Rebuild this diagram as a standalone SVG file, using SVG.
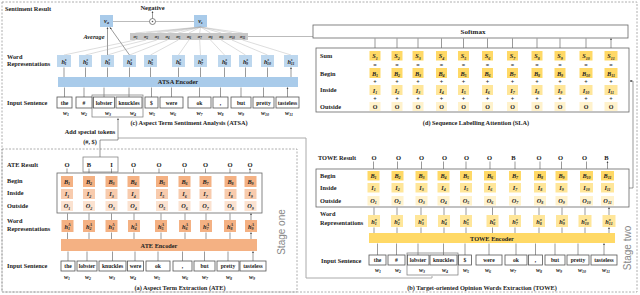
<svg xmlns="http://www.w3.org/2000/svg" width="640" height="295" viewBox="0 0 640 295">
<defs>
<marker id="ah" viewBox="0 0 6 6" refX="5" refY="3" markerWidth="3.5" markerHeight="3.5" orient="auto"><path d="M0,0 L6,3 L0,6 z" fill="#444"/></marker>
<style>
text{font-family:"Liberation Serif",serif;font-weight:bold;fill:#222}
.lbl{font-size:6.3px}
.cap{font-size:6.3px;text-anchor:middle}
.wd{font-size:5.6px;text-anchor:middle}
.v{font-size:6.3px;font-style:italic;text-anchor:middle}
.s{font-size:4px}
.res{font-size:6.5px;text-anchor:middle}
.op{font-size:6px;text-anchor:middle}
.stage{font-family:"Liberation Sans",sans-serif;font-weight:normal;font-size:10px;fill:#888;text-anchor:middle}
.dash{fill:none;stroke:#999;stroke-width:0.8;stroke-dasharray:2,1.5}
.wbox{fill:#fff;stroke:#555;stroke-width:0.8}
.frame{fill:#fff;stroke:#666;stroke-width:0.8}
.grp{fill:none;stroke:#777;stroke-width:0.7}
.ar{stroke:#555;stroke-width:0.6;fill:none;marker-end:url(#ah)}
.ln{stroke:#777;stroke-width:0.5;fill:none}
.thin{stroke:#aaa;stroke-width:0.4;fill:none}
.gl{stroke:#aaa;stroke-width:1;fill:none}
.blue{fill:#a9cbea}
.blueL{fill:#bdd7ee}
.or{fill:#f4b183}
.orM{fill:#f8cbad}
.orL{fill:#fbe2d0}
.ye{fill:#ffd966}
.yeM{fill:#ffe699}
.yeL{fill:#fff2cc}
</style>
</defs>

<!-- stage frames -->
<rect class="dash" x="2" y="2" width="635" height="290"/>
<rect class="dash" x="2" y="149" width="295" height="143"/>
<text class="stage" transform="translate(285,232) rotate(-90)">Stage one</text>
<text class="stage" transform="translate(631,248) rotate(-90)">Stage two</text>

<!-- connectors -->
<g id="connectors">
<path class="gl" d="M118,138 H306 V278 H432 V276"/>
<path class="ar" d="M100,157 V140 H118 V118.5"/>
<path class="ar" d="M629,188 H633 V81 H630"/>
<path class="ln" d="M248,36.5 H313"/>
</g>

<!-- ATSA -->
<g id="atsa">
<text class="lbl" x="5" y="11">Sentiment Result</text>
<text class="lbl" x="7" y="59">Word</text>
<text class="lbl" x="7" y="66">Representations</text>
<text class="lbl" x="7" y="105">Input Sentence</text>
<text class="res" x="152.5" y="9.5">Negative</text>
<circle cx="152.5" cy="21.5" r="3" fill="#fff" stroke="#555" stroke-width="0.7"/>
<circle cx="152.5" cy="21.5" r="0.8" fill="#555"/>
<path class="ar" d="M152.5,18.5 V11.5"/>
<path class="ln" d="M113,21.5 H149.5 M155.5,21.5 H194"/>
<rect class="blue" x="100" y="15" width="13" height="12"/>
<text class="v" x="106.5" y="23">v<tspan class="s" dy="1.3">a</tspan></text>
<rect class="blue" x="194" y="15" width="13" height="12"/>
<text class="v" x="200.5" y="23">v<tspan class="s" dy="1.3">s</tspan></text>
<text class="v" x="94" y="39">Average</text>
<path class="ar" d="M107.5,55 V27.5"/>
<path class="ar" d="M129.5,55 L110,27.5"/>
<!-- attention lines -->
<path class="thin" d="M64,55 L135.4,40 M85.5,55 L146.1,40 M107.5,55 L156.8,40 M129.5,55 L167.5,40 M150.5,55 L178.3,40 M178.5,55 L189,40 M200.5,55 L199.7,40 M224.5,55 L210.5,40 M245.5,55 L221.2,40 M267.5,55 L231.9,40 M291,55 L242.6,40"/>
<path class="thin" d="M200.5,27 L135.4,33 M200.5,27 L146.1,33 M200.5,27 L156.8,33 M200.5,27 L167.5,33 M200.5,27 L178.3,33 M200.5,27 L189,33 M200.5,27 L199.7,33 M200.5,27 L210.5,33 M200.5,27 L221.2,33 M200.5,27 L231.9,33 M200.5,27 L242.6,33"/>
<rect x="130" y="33" width="118" height="7" fill="#c8c8c8"/>
<g class="v" style="font-size:4.6px">
<text x="135.4" y="38.3">α<tspan class="s" style="font-size:3px" dy="0.8">1</tspan></text>
<text x="146.1" y="38.3">α<tspan class="s" style="font-size:3px" dy="0.8">2</tspan></text>
<text x="156.8" y="38.3">α<tspan class="s" style="font-size:3px" dy="0.8">3</tspan></text>
<text x="167.5" y="38.3">α<tspan class="s" style="font-size:3px" dy="0.8">4</tspan></text>
<text x="178.3" y="38.3">α<tspan class="s" style="font-size:3px" dy="0.8">5</tspan></text>
<text x="189" y="38.3">α<tspan class="s" style="font-size:3px" dy="0.8">6</tspan></text>
<text x="199.7" y="38.3">α<tspan class="s" style="font-size:3px" dy="0.8">7</tspan></text>
<text x="210.5" y="38.3">α<tspan class="s" style="font-size:3px" dy="0.8">8</tspan></text>
<text x="221.2" y="38.3">α<tspan class="s" style="font-size:3px" dy="0.8">9</tspan></text>
<text x="231.9" y="38.3">α<tspan class="s" style="font-size:3px" dy="0.8">10</tspan></text>
<text x="242.6" y="38.3">α<tspan class="s" style="font-size:3px" dy="0.8">11</tspan></text>
</g>
<!-- h^s boxes -->
<g>
<rect class="blueL" x="57" y="55" width="14" height="12"/><text class="v" x="64" y="63.5">h<tspan class="s" dy="-2.5">s</tspan><tspan class="s" dx="-2" dy="4">1</tspan></text>
<rect class="blueL" x="79" y="55" width="13" height="12"/><text class="v" x="85.5" y="63.5">h<tspan class="s" dy="-2.5">s</tspan><tspan class="s" dx="-2" dy="4">2</tspan></text>
<rect class="blueL" x="101" y="55" width="13" height="12"/><text class="v" x="107.5" y="63.5">h<tspan class="s" dy="-2.5">s</tspan><tspan class="s" dx="-2" dy="4">3</tspan></text>
<rect class="blueL" x="123" y="55" width="13" height="12"/><text class="v" x="129.5" y="63.5">h<tspan class="s" dy="-2.5">s</tspan><tspan class="s" dx="-2" dy="4">4</tspan></text>
<rect class="blueL" x="144" y="55" width="13" height="12"/><text class="v" x="150.5" y="63.5">h<tspan class="s" dy="-2.5">s</tspan><tspan class="s" dx="-2" dy="4">5</tspan></text>
<rect class="blueL" x="172" y="55" width="13" height="12"/><text class="v" x="178.5" y="63.5">h<tspan class="s" dy="-2.5">s</tspan><tspan class="s" dx="-2" dy="4">6</tspan></text>
<rect class="blueL" x="194" y="55" width="13" height="12"/><text class="v" x="200.5" y="63.5">h<tspan class="s" dy="-2.5">s</tspan><tspan class="s" dx="-2" dy="4">7</tspan></text>
<rect class="blueL" x="218" y="55" width="13" height="12"/><text class="v" x="224.5" y="63.5">h<tspan class="s" dy="-2.5">s</tspan><tspan class="s" dx="-2" dy="4">8</tspan></text>
<rect class="blueL" x="239" y="55" width="13" height="12"/><text class="v" x="245.5" y="63.5">h<tspan class="s" dy="-2.5">s</tspan><tspan class="s" dx="-2" dy="4">9</tspan></text>
<rect class="blueL" x="261" y="55" width="13" height="12"/><text class="v" x="267.5" y="63.5">h<tspan class="s" dy="-2.5">s</tspan><tspan class="s" dx="-2" dy="4">10</tspan></text>
<rect class="blueL" x="284" y="55" width="14" height="12"/><text class="v" x="291" y="63.5">h<tspan class="s" dy="-2.5">s</tspan><tspan class="s" dx="-2" dy="4">11</tspan></text>
</g>
<path class="ar" d="M64,77 V67.5 M85.5,77 V67.5 M107.5,77 V67.5 M129.5,77 V67.5 M150.5,77 V67.5 M178.5,77 V67.5 M200.5,77 V67.5 M224.5,77 V67.5 M245.5,77 V67.5 M267.5,77 V67.5 M291,77 V67.5"/>
<rect class="blue" x="58" y="77" width="240" height="10"/>
<text class="cap" x="178" y="84.3">ATSA  Encoder</text>
<path class="ar" d="M64.5,97 V87.5 M84,97 V87.5 M104,97 V87.5 M129,97 V87.5 M151.5,97 V87.5 M171.5,97 V87.5 M199.5,97 V87.5 M220.5,97 V87.5 M241,97 V87.5 M263.5,97 V87.5 M287.5,97 V87.5"/>
<rect class="grp" x="92" y="95" width="51" height="22"/>
<rect class="wbox" x="57" y="97" width="15" height="11"/><text class="wd" x="64.5" y="104.5">the</text>
<rect class="wbox" x="76" y="97" width="16" height="11"/><text class="wd" x="84" y="104.5">#</text>
<rect class="wbox" x="93.5" y="97" width="21" height="11"/><text class="wd" x="104" y="104.5">lobster</text>
<rect class="wbox" x="116" y="97" width="26" height="11"/><text class="wd" x="129" y="104.5">knuckles</text>
<rect class="wbox" x="145" y="97" width="13" height="11"/><text class="wd" x="151.5" y="104.5">$</text>
<rect class="wbox" x="160" y="97" width="23" height="11"/><text class="wd" x="171.5" y="104.5">were</text>
<rect class="wbox" x="188" y="97" width="23" height="11"/><text class="wd" x="199.5" y="104.5">ok</text>
<rect class="wbox" x="213" y="97" width="15" height="11"/><text class="wd" x="220.5" y="104.5">,</text>
<rect class="wbox" x="231" y="97" width="20" height="11"/><text class="wd" x="241" y="104.5">but</text>
<rect class="wbox" x="253" y="97" width="21" height="11"/><text class="wd" x="263.5" y="104.5">pretty</text>
<rect class="wbox" x="276" y="97" width="23" height="11"/><text class="wd" x="287.5" y="104.5">tasteless</text>
<g class="v">
<text x="66" y="115">w<tspan class="s" dy="1.3">1</tspan></text>
<text x="84" y="115">w<tspan class="s" dy="1.3">2</tspan></text>
<text x="108" y="115">w<tspan class="s" dy="1.3">3</tspan></text>
<text x="133" y="115">w<tspan class="s" dy="1.3">4</tspan></text>
<text x="152" y="115">w<tspan class="s" dy="1.3">5</tspan></text>
<text x="173" y="115">w<tspan class="s" dy="1.3">6</tspan></text>
<text x="199.5" y="115">w<tspan class="s" dy="1.3">7</tspan></text>
<text x="220.5" y="115">w<tspan class="s" dy="1.3">8</tspan></text>
<text x="241" y="115">w<tspan class="s" dy="1.3">9</tspan></text>
<text x="265" y="115">w<tspan class="s" dy="1.3">10</tspan></text>
<text x="289" y="115">w<tspan class="s" dy="1.3">11</tspan></text>
</g>
<text class="cap" x="189" y="124.5">(c) Aspect Term Sentiment Analysis (ATSA)</text>
<text class="cap" x="90" y="134">Add special tokens</text>
<text class="cap" x="90" y="144">(#, $)</text>
</g>

<!-- SLA -->
<g id="sla">
<rect class="frame" x="313" y="25" width="315" height="13"/>
<text class="cap" x="473" y="34" style="font-size:7px">Softmax</text>
<path class="ar" d="M375,51 V38.5 M397,51 V38.5 M418,51 V38.5 M441.5,51 V38.5 M463.5,51 V38.5 M487.5,51 V38.5 M512.5,51 V38.5 M537,51 V38.5 M560,51 V38.5 M586,51 V38.5 M611,51 V38.5"/>
<rect class="frame" x="316" y="48" width="313" height="64"/>
<text class="lbl" x="320" y="58">Sum</text>
<text class="lbl" x="320" y="75.5">Begin</text>
<text class="lbl" x="320" y="92">Inside</text>
<text class="lbl" x="320" y="109">Outside</text>
<g id="sla-cols">
<rect class="ye" x="369.5" y="51" width="11" height="9.5"/><rect class="ye" x="369.5" y="68" width="11" height="10"/><rect class="yeM" x="369.5" y="85" width="11" height="10"/><rect class="yeL" x="369.5" y="102" width="11" height="9"/>
<rect class="ye" x="391.5" y="51" width="11" height="9.5"/><rect class="ye" x="391.5" y="68" width="11" height="10"/><rect class="yeM" x="391.5" y="85" width="11" height="10"/><rect class="yeL" x="391.5" y="102" width="11" height="9"/>
<rect class="ye" x="412.5" y="51" width="11" height="9.5"/><rect class="ye" x="412.5" y="68" width="11" height="10"/><rect class="yeM" x="412.5" y="85" width="11" height="10"/><rect class="yeL" x="412.5" y="102" width="11" height="9"/>
<rect class="ye" x="436" y="51" width="11" height="9.5"/><rect class="ye" x="436" y="68" width="11" height="10"/><rect class="yeM" x="436" y="85" width="11" height="10"/><rect class="yeL" x="436" y="102" width="11" height="9"/>
<rect class="ye" x="458" y="51" width="11" height="9.5"/><rect class="ye" x="458" y="68" width="11" height="10"/><rect class="yeM" x="458" y="85" width="11" height="10"/><rect class="yeL" x="458" y="102" width="11" height="9"/>
<rect class="ye" x="482" y="51" width="11" height="9.5"/><rect class="ye" x="482" y="68" width="11" height="10"/><rect class="yeM" x="482" y="85" width="11" height="10"/><rect class="yeL" x="482" y="102" width="11" height="9"/>
<rect class="ye" x="507" y="51" width="11" height="9.5"/><rect class="ye" x="507" y="68" width="11" height="10"/><rect class="yeM" x="507" y="85" width="11" height="10"/><rect class="yeL" x="507" y="102" width="11" height="9"/>
<rect class="ye" x="531.5" y="51" width="11" height="9.5"/><rect class="ye" x="531.5" y="68" width="11" height="10"/><rect class="yeM" x="531.5" y="85" width="11" height="10"/><rect class="yeL" x="531.5" y="102" width="11" height="9"/>
<rect class="ye" x="554.5" y="51" width="11" height="9.5"/><rect class="ye" x="554.5" y="68" width="11" height="10"/><rect class="yeM" x="554.5" y="85" width="11" height="10"/><rect class="yeL" x="554.5" y="102" width="11" height="9"/>
<rect class="ye" x="579.5" y="51" width="13" height="9.5"/><rect class="ye" x="579.5" y="68" width="13" height="10"/><rect class="yeM" x="579.5" y="85" width="13" height="10"/><rect class="yeL" x="579.5" y="102" width="13" height="9"/>
<rect class="ye" x="604.5" y="51" width="13" height="9.5"/><rect class="ye" x="604.5" y="68" width="13" height="10"/><rect class="yeM" x="604.5" y="85" width="13" height="10"/><rect class="yeL" x="604.5" y="102" width="13" height="9"/>
</g>
<g class="v">
<text x="375" y="58.2">S<tspan class="s" dy="1.3">1</tspan></text><text x="397" y="58.2">S<tspan class="s" dy="1.3">2</tspan></text><text x="418" y="58.2">S<tspan class="s" dy="1.3">3</tspan></text><text x="441.5" y="58.2">S<tspan class="s" dy="1.3">4</tspan></text><text x="463.5" y="58.2">S<tspan class="s" dy="1.3">5</tspan></text><text x="487.5" y="58.2">S<tspan class="s" dy="1.3">6</tspan></text><text x="512.5" y="58.2">S<tspan class="s" dy="1.3">7</tspan></text><text x="537" y="58.2">S<tspan class="s" dy="1.3">8</tspan></text><text x="560" y="58.2">S<tspan class="s" dy="1.3">9</tspan></text><text x="586" y="58.2">S<tspan class="s" dy="1.3">10</tspan></text><text x="611" y="58.2">S<tspan class="s" dy="1.3">11</tspan></text>
<text x="375" y="75.5">B<tspan class="s" dy="1.3">1</tspan></text><text x="397" y="75.5">B<tspan class="s" dy="1.3">2</tspan></text><text x="418" y="75.5">B<tspan class="s" dy="1.3">3</tspan></text><text x="441.5" y="75.5">B<tspan class="s" dy="1.3">4</tspan></text><text x="463.5" y="75.5">B<tspan class="s" dy="1.3">5</tspan></text><text x="487.5" y="75.5">B<tspan class="s" dy="1.3">6</tspan></text><text x="512.5" y="75.5">B<tspan class="s" dy="1.3">7</tspan></text><text x="537" y="75.5">B<tspan class="s" dy="1.3">8</tspan></text><text x="560" y="75.5">B<tspan class="s" dy="1.3">9</tspan></text><text x="586" y="75.5">B<tspan class="s" dy="1.3">10</tspan></text><text x="611" y="75.5">B<tspan class="s" dy="1.3">11</tspan></text>
<text x="375" y="92.5">I<tspan class="s" dy="1.3">1</tspan></text><text x="397" y="92.5">I<tspan class="s" dy="1.3">2</tspan></text><text x="418" y="92.5">I<tspan class="s" dy="1.3">3</tspan></text><text x="441.5" y="92.5">I<tspan class="s" dy="1.3">4</tspan></text><text x="463.5" y="92.5">I<tspan class="s" dy="1.3">5</tspan></text><text x="487.5" y="92.5">I<tspan class="s" dy="1.3">6</tspan></text><text x="512.5" y="92.5">I<tspan class="s" dy="1.3">7</tspan></text><text x="537" y="92.5">I<tspan class="s" dy="1.3">8</tspan></text><text x="560" y="92.5">I<tspan class="s" dy="1.3">9</tspan></text><text x="586" y="92.5">I<tspan class="s" dy="1.3">10</tspan></text><text x="611" y="92.5">I<tspan class="s" dy="1.3">11</tspan></text>
</g>
<g class="op">
<text x="375" y="108.8">O</text><text x="397" y="108.8">O</text><text x="418" y="108.8">O</text><text x="441.5" y="108.8">O</text><text x="463.5" y="108.8">O</text><text x="487.5" y="108.8">O</text><text x="512.5" y="108.8">O</text><text x="537" y="108.8">O</text><text x="560" y="108.8">O</text><text x="586" y="108.8">O</text><text x="611" y="108.8">O</text>
<text x="375" y="66.5">=</text><text x="397" y="66.5">=</text><text x="418" y="66.5">=</text><text x="441.5" y="66.5">=</text><text x="463.5" y="66.5">=</text><text x="487.5" y="66.5">=</text><text x="512.5" y="66.5">=</text><text x="537" y="66.5">=</text><text x="560" y="66.5">=</text><text x="586" y="66.5">=</text><text x="611" y="66.5">=</text>
<text x="375" y="83.5">+</text><text x="397" y="83.5">+</text><text x="418" y="83.5">+</text><text x="441.5" y="83.5">+</text><text x="463.5" y="83.5">+</text><text x="487.5" y="83.5">+</text><text x="512.5" y="83.5">+</text><text x="537" y="83.5">+</text><text x="560" y="83.5">+</text><text x="586" y="83.5">+</text><text x="611" y="83.5">+</text>
<text x="375" y="100.5">+</text><text x="397" y="100.5">+</text><text x="418" y="100.5">+</text><text x="441.5" y="100.5">+</text><text x="463.5" y="100.5">+</text><text x="487.5" y="100.5">+</text><text x="512.5" y="100.5">+</text><text x="537" y="100.5">+</text><text x="560" y="100.5">+</text><text x="586" y="100.5">+</text><text x="611" y="100.5">+</text>
</g>
<text class="cap" x="476" y="124.5">(d)  Sequence Labelling Attention (SLA)</text>
</g>

<!-- TOWE -->
<g id="towe">
<text class="lbl" x="318" y="160">TOWE Result</text>
<g class="res">
<text x="374" y="160">O</text><text x="398.5" y="160">O</text><text x="421.5" y="160">O</text><text x="444.5" y="160">O</text><text x="466.5" y="160">O</text><text x="489.5" y="160">O</text><text x="513.5" y="160">B</text><text x="539" y="160">O</text><text x="560.5" y="160">O</text><text x="584.5" y="160">O</text><text x="606.5" y="160">B</text>
</g>
<path class="ar" d="M373.5,169 V161.5 M397.5,169 V161.5 M421.5,169 V161.5 M443.5,169 V161.5 M466,169 V161.5 M490,169 V161.5 M515,169 V161.5 M540,169 V161.5 M561.5,169 V161.5 M586.5,169 V161.5 M607.5,169 V161.5"/>
<rect class="frame" x="316" y="169" width="313" height="38"/>
<text class="lbl" x="320" y="177.5">Begin</text>
<text class="lbl" x="320" y="190">Inside</text>
<text class="lbl" x="320" y="202.5">Outside</text>
<g>
<rect class="ye" x="367.5" y="171" width="12" height="9.5"/><rect class="yeM" x="367.5" y="183" width="12" height="9.5"/><rect class="yeL" x="367.5" y="196" width="12" height="9.5"/>
<rect class="ye" x="391.5" y="171" width="12" height="9.5"/><rect class="yeM" x="391.5" y="183" width="12" height="9.5"/><rect class="yeL" x="391.5" y="196" width="12" height="9.5"/>
<rect class="ye" x="415.5" y="171" width="12" height="9.5"/><rect class="yeM" x="415.5" y="183" width="12" height="9.5"/><rect class="yeL" x="415.5" y="196" width="12" height="9.5"/>
<rect class="ye" x="437.5" y="171" width="12" height="9.5"/><rect class="yeM" x="437.5" y="183" width="12" height="9.5"/><rect class="yeL" x="437.5" y="196" width="12" height="9.5"/>
<rect class="ye" x="460" y="171" width="12" height="9.5"/><rect class="yeM" x="460" y="183" width="12" height="9.5"/><rect class="yeL" x="460" y="196" width="12" height="9.5"/>
<rect class="ye" x="484" y="171" width="12" height="9.5"/><rect class="yeM" x="484" y="183" width="12" height="9.5"/><rect class="yeL" x="484" y="196" width="12" height="9.5"/>
<rect class="ye" x="509" y="171" width="12" height="9.5"/><rect class="yeM" x="509" y="183" width="12" height="9.5"/><rect class="yeL" x="509" y="196" width="12" height="9.5"/>
<rect class="ye" x="534" y="171" width="12" height="9.5"/><rect class="yeM" x="534" y="183" width="12" height="9.5"/><rect class="yeL" x="534" y="196" width="12" height="9.5"/>
<rect class="ye" x="555.5" y="171" width="12" height="9.5"/><rect class="yeM" x="555.5" y="183" width="12" height="9.5"/><rect class="yeL" x="555.5" y="196" width="12" height="9.5"/>
<rect class="ye" x="580" y="171" width="13" height="9.5"/><rect class="yeM" x="580" y="183" width="13" height="9.5"/><rect class="yeL" x="580" y="196" width="13" height="9.5"/>
<rect class="ye" x="601" y="171" width="13" height="9.5"/><rect class="yeM" x="601" y="183" width="13" height="9.5"/><rect class="yeL" x="601" y="196" width="13" height="9.5"/>
</g>
<g class="v">
<text x="373.5" y="178">B<tspan class="s" dy="1.3">1</tspan></text><text x="397.5" y="178">B<tspan class="s" dy="1.3">2</tspan></text><text x="421.5" y="178">B<tspan class="s" dy="1.3">3</tspan></text><text x="443.5" y="178">B<tspan class="s" dy="1.3">4</tspan></text><text x="466" y="178">B<tspan class="s" dy="1.3">5</tspan></text><text x="490" y="178">B<tspan class="s" dy="1.3">6</tspan></text><text x="515" y="178">B<tspan class="s" dy="1.3">7</tspan></text><text x="540" y="178">B<tspan class="s" dy="1.3">8</tspan></text><text x="561.5" y="178">B<tspan class="s" dy="1.3">9</tspan></text><text x="586.5" y="178">B<tspan class="s" dy="1.3">10</tspan></text><text x="607.5" y="178">B<tspan class="s" dy="1.3">11</tspan></text>
<text x="373.5" y="190">I<tspan class="s" dy="1.3">1</tspan></text><text x="397.5" y="190">I<tspan class="s" dy="1.3">2</tspan></text><text x="421.5" y="190">I<tspan class="s" dy="1.3">3</tspan></text><text x="443.5" y="190">I<tspan class="s" dy="1.3">4</tspan></text><text x="466" y="190">I<tspan class="s" dy="1.3">5</tspan></text><text x="490" y="190">I<tspan class="s" dy="1.3">6</tspan></text><text x="515" y="190">I<tspan class="s" dy="1.3">7</tspan></text><text x="540" y="190">I<tspan class="s" dy="1.3">8</tspan></text><text x="561.5" y="190">I<tspan class="s" dy="1.3">9</tspan></text><text x="586.5" y="190">I<tspan class="s" dy="1.3">10</tspan></text><text x="607.5" y="190">I<tspan class="s" dy="1.3">11</tspan></text>
<text x="373.5" y="203">O<tspan class="s" dy="1.3">1</tspan></text><text x="397.5" y="203">O<tspan class="s" dy="1.3">2</tspan></text><text x="421.5" y="203">O<tspan class="s" dy="1.3">3</tspan></text><text x="443.5" y="203">O<tspan class="s" dy="1.3">4</tspan></text><text x="466" y="203">O<tspan class="s" dy="1.3">5</tspan></text><text x="490" y="203">O<tspan class="s" dy="1.3">6</tspan></text><text x="515" y="203">O<tspan class="s" dy="1.3">7</tspan></text><text x="540" y="203">O<tspan class="s" dy="1.3">8</tspan></text><text x="561.5" y="203">O<tspan class="s" dy="1.3">9</tspan></text><text x="586.5" y="203">O<tspan class="s" dy="1.3">10</tspan></text><text x="607.5" y="203">O<tspan class="s" dy="1.3">11</tspan></text>
</g>
<text class="lbl" x="320" y="216">Word</text>
<text class="lbl" x="320" y="225">Representations</text>
<path class="ar" d="M374,215 V207.5 M397,215 V207.5 M421,215 V207.5 M444,215 V207.5 M466,215 V207.5 M492.5,215 V207.5 M515,215 V207.5 M539,215 V207.5 M562,215 V207.5 M585,215 V207.5 M609,215 V207.5"/>
<g>
<rect class="yeM" x="368" y="215" width="12" height="12"/><rect class="yeM" x="391" y="215" width="12" height="12"/><rect class="yeM" x="415" y="215" width="12" height="12"/><rect class="yeM" x="438" y="215" width="12" height="12"/><rect class="yeM" x="460" y="215" width="12" height="12"/><rect class="yeM" x="486.5" y="215" width="12" height="12"/><rect class="yeM" x="509" y="215" width="12" height="12"/><rect class="yeM" x="533" y="215" width="12" height="12"/><rect class="yeM" x="556" y="215" width="12" height="12"/><rect class="yeM" x="578.5" y="215" width="13" height="12"/><rect class="yeM" x="602.5" y="215" width="13" height="12"/>
</g>
<g class="v">
<text x="374" y="223.5">h<tspan class="s" dy="-2.5">o</tspan><tspan class="s" dx="-2" dy="4">1</tspan></text>
<text x="397" y="223.5">h<tspan class="s" dy="-2.5">o</tspan><tspan class="s" dx="-2" dy="4">2</tspan></text>
<text x="421" y="223.5">h<tspan class="s" dy="-2.5">o</tspan><tspan class="s" dx="-2" dy="4">3</tspan></text>
<text x="444" y="223.5">h<tspan class="s" dy="-2.5">o</tspan><tspan class="s" dx="-2" dy="4">4</tspan></text>
<text x="466" y="223.5">h<tspan class="s" dy="-2.5">o</tspan><tspan class="s" dx="-2" dy="4">5</tspan></text>
<text x="492.5" y="223.5">h<tspan class="s" dy="-2.5">o</tspan><tspan class="s" dx="-2" dy="4">6</tspan></text>
<text x="515" y="223.5">h<tspan class="s" dy="-2.5">o</tspan><tspan class="s" dx="-2" dy="4">7</tspan></text>
<text x="539" y="223.5">h<tspan class="s" dy="-2.5">o</tspan><tspan class="s" dx="-2" dy="4">8</tspan></text>
<text x="562" y="223.5">h<tspan class="s" dy="-2.5">o</tspan><tspan class="s" dx="-2" dy="4">9</tspan></text>
<text x="585" y="223.5">h<tspan class="s" dy="-2.5">o</tspan><tspan class="s" dx="-2" dy="4">10</tspan></text>
<text x="609" y="223.5">h<tspan class="s" dy="-2.5">o</tspan><tspan class="s" dx="-2" dy="4">11</tspan></text>
</g>
<path class="ar" d="M374,233 V227.5 M397,233 V227.5 M421,233 V227.5 M444,233 V227.5 M466,233 V227.5 M492.5,233 V227.5 M515,233 V227.5 M539,233 V227.5 M562,233 V227.5 M585,233 V227.5 M609,233 V227.5"/>
<rect class="ye" x="369" y="233" width="246" height="10"/>
<text class="cap" x="492" y="240.5">TOWE  Encoder</text>
<path class="ar" d="M377.5,255 V243.5 M396.5,255 V243.5 M418,255 V243.5 M443.5,255 V243.5 M465,255 V243.5 M489,255 V243.5 M516,255 V243.5 M535.5,255 V243.5 M555,255 V243.5 M578,255 V243.5 M604,255 V243.5"/>
<text class="lbl" x="321" y="263">Input Sentence</text>
<rect class="grp" x="407" y="253" width="51" height="22"/>
<rect class="wbox" x="369" y="255" width="17" height="10"/><text class="wd" x="377.5" y="262">the</text>
<rect class="wbox" x="388" y="255" width="17" height="10"/><text class="wd" x="396.5" y="262">#</text>
<rect class="wbox" x="407.5" y="255" width="21.5" height="10"/><text class="wd" x="418" y="262">lobster</text>
<rect class="wbox" x="430" y="255" width="27" height="10"/><text class="wd" x="443.5" y="262">knuckles</text>
<rect class="wbox" x="458.5" y="255" width="13" height="10"/><text class="wd" x="465" y="262">$</text>
<rect class="wbox" x="476" y="255" width="26" height="10"/><text class="wd" x="489" y="262">were</text>
<rect class="wbox" x="505" y="255" width="22" height="10"/><text class="wd" x="516" y="262">ok</text>
<rect class="wbox" x="528.5" y="255" width="14" height="10"/><text class="wd" x="535.5" y="262">,</text>
<rect class="wbox" x="545" y="255" width="20" height="10"/><text class="wd" x="555" y="262">but</text>
<rect class="wbox" x="567" y="255" width="22" height="10"/><text class="wd" x="578" y="262">pretty</text>
<rect class="wbox" x="591" y="255" width="26" height="10"/><text class="wd" x="604" y="262">tasteless</text>
<g class="v">
<text x="378" y="272">w<tspan class="s" dy="1.3">1</tspan></text><text x="398" y="272">w<tspan class="s" dy="1.3">2</tspan></text><text x="422" y="272">w<tspan class="s" dy="1.3">3</tspan></text><text x="445" y="272">w<tspan class="s" dy="1.3">4</tspan></text><text x="466" y="272">w<tspan class="s" dy="1.3">5</tspan></text><text x="488" y="272">w<tspan class="s" dy="1.3">6</tspan></text><text x="513" y="272">w<tspan class="s" dy="1.3">7</tspan></text><text x="539" y="272">w<tspan class="s" dy="1.3">8</tspan></text><text x="559" y="272">w<tspan class="s" dy="1.3">9</tspan></text><text x="582" y="272">w<tspan class="s" dy="1.3">10</tspan></text><text x="606" y="272">w<tspan class="s" dy="1.3">11</tspan></text>
</g>
<text class="cap" x="482" y="290">(b) Target-oriented Opinion Words Extraction (TOWE)</text>
</g>

<!-- ATE -->
<g id="ate">
<text class="lbl" x="7" y="167">ATE Result</text>
<rect class="grp" x="83" y="157" width="35" height="15"/>
<g class="res">
<text x="67" y="167">O</text><text x="89" y="167">B</text><text x="111.5" y="167">I</text><text x="133.5" y="167">O</text><text x="159" y="167">O</text><text x="184.5" y="167">O</text><text x="205.5" y="167">O</text><text x="230" y="167">O</text><text x="250" y="167">O</text>
</g>
<path class="ar" d="M67,173 V168.5 M89,173 V168.5 M111.5,173 V168.5 M133.5,173 V168.5 M159,173 V168.5 M184.5,173 V168.5 M205.5,173 V168.5 M230,173 V168.5 M250,173 V168.5"/>
<rect class="frame" x="57" y="173" width="205" height="40"/>
<text class="lbl" x="7" y="182.5">Begin</text>
<text class="lbl" x="7" y="195">Inside</text>
<text class="lbl" x="7" y="208">Outside</text>
<g>
<rect class="or" x="61" y="176" width="12" height="11"/><rect class="orM" x="61" y="189" width="12" height="10"/><rect class="orL" x="61" y="201" width="12" height="10"/>
<rect class="or" x="83" y="176" width="12" height="11"/><rect class="orM" x="83" y="189" width="12" height="10"/><rect class="orL" x="83" y="201" width="12" height="10"/>
<rect class="or" x="105.5" y="176" width="12" height="11"/><rect class="orM" x="105.5" y="189" width="12" height="10"/><rect class="orL" x="105.5" y="201" width="12" height="10"/>
<rect class="or" x="127.5" y="176" width="12" height="11"/><rect class="orM" x="127.5" y="189" width="12" height="10"/><rect class="orL" x="127.5" y="201" width="12" height="10"/>
<rect class="or" x="156" y="176" width="12" height="11"/><rect class="orM" x="156" y="189" width="12" height="10"/><rect class="orL" x="156" y="201" width="12" height="10"/>
<rect class="or" x="178.5" y="176" width="12" height="11"/><rect class="orM" x="178.5" y="189" width="12" height="10"/><rect class="orL" x="178.5" y="201" width="12" height="10"/>
<rect class="or" x="199.5" y="176" width="12" height="11"/><rect class="orM" x="199.5" y="189" width="12" height="10"/><rect class="orL" x="199.5" y="201" width="12" height="10"/>
<rect class="or" x="224.5" y="176" width="12" height="11"/><rect class="orM" x="224.5" y="189" width="12" height="10"/><rect class="orL" x="224.5" y="201" width="12" height="10"/>
<rect class="or" x="244.5" y="176" width="12" height="11"/><rect class="orM" x="244.5" y="189" width="12" height="10"/><rect class="orL" x="244.5" y="201" width="12" height="10"/>
</g>
<g class="v">
<text x="67" y="184">B<tspan class="s" dy="1.3">1</tspan></text><text x="89" y="184">B<tspan class="s" dy="1.3">2</tspan></text><text x="111.5" y="184">B<tspan class="s" dy="1.3">3</tspan></text><text x="133.5" y="184">B<tspan class="s" dy="1.3">4</tspan></text><text x="162" y="184">B<tspan class="s" dy="1.3">5</tspan></text><text x="184.5" y="184">B<tspan class="s" dy="1.3">6</tspan></text><text x="205.5" y="184">B<tspan class="s" dy="1.3">7</tspan></text><text x="230.5" y="184">B<tspan class="s" dy="1.3">8</tspan></text><text x="250.5" y="184">B<tspan class="s" dy="1.3">9</tspan></text>
<text x="67" y="196.3">I<tspan class="s" dy="1.3">1</tspan></text><text x="89" y="196.3">I<tspan class="s" dy="1.3">2</tspan></text><text x="111.5" y="196.3">I<tspan class="s" dy="1.3">3</tspan></text><text x="133.5" y="196.3">I<tspan class="s" dy="1.3">4</tspan></text><text x="162" y="196.3">I<tspan class="s" dy="1.3">5</tspan></text><text x="184.5" y="196.3">I<tspan class="s" dy="1.3">6</tspan></text><text x="205.5" y="196.3">I<tspan class="s" dy="1.3">7</tspan></text><text x="230.5" y="196.3">I<tspan class="s" dy="1.3">8</tspan></text><text x="250.5" y="196.3">I<tspan class="s" dy="1.3">9</tspan></text>
<text x="67" y="208.3">O<tspan class="s" dy="1.3">1</tspan></text><text x="89" y="208.3">O<tspan class="s" dy="1.3">2</tspan></text><text x="111.5" y="208.3">O<tspan class="s" dy="1.3">3</tspan></text><text x="133.5" y="208.3">O<tspan class="s" dy="1.3">4</tspan></text><text x="162" y="208.3">O<tspan class="s" dy="1.3">5</tspan></text><text x="184.5" y="208.3">O<tspan class="s" dy="1.3">6</tspan></text><text x="205.5" y="208.3">O<tspan class="s" dy="1.3">7</tspan></text><text x="230.5" y="208.3">O<tspan class="s" dy="1.3">8</tspan></text><text x="250.5" y="208.3">O<tspan class="s" dy="1.3">9</tspan></text>
</g>
<text class="lbl" x="7" y="223">Word</text>
<text class="lbl" x="7" y="231">Representations</text>
<path class="ar" d="M67.5,220 V213.5 M89,220 V213.5 M111.5,220 V213.5 M134,220 V213.5 M161,220 V213.5 M185,220 V213.5 M206,220 V213.5 M230,220 V213.5 M251,220 V213.5"/>
<g>
<rect class="or" x="61.5" y="220" width="12" height="12"/><rect class="or" x="83" y="220" width="12" height="12"/><rect class="or" x="105.5" y="220" width="12" height="12"/><rect class="or" x="128" y="220" width="12" height="12"/><rect class="or" x="155" y="220" width="12" height="12"/><rect class="or" x="179" y="220" width="12" height="12"/><rect class="or" x="200" y="220" width="12" height="12"/><rect class="or" x="224" y="220" width="12" height="12"/><rect class="or" x="245" y="220" width="12" height="12"/>
</g>
<g class="v">
<text x="67.5" y="228.5">h<tspan class="s" dy="-2.5">A</tspan><tspan class="s" dx="-2.6" dy="4">1</tspan></text>
<text x="89" y="228.5">h<tspan class="s" dy="-2.5">A</tspan><tspan class="s" dx="-2.6" dy="4">2</tspan></text>
<text x="111.5" y="228.5">h<tspan class="s" dy="-2.5">A</tspan><tspan class="s" dx="-2.6" dy="4">3</tspan></text>
<text x="134" y="228.5">h<tspan class="s" dy="-2.5">A</tspan><tspan class="s" dx="-2.6" dy="4">4</tspan></text>
<text x="161" y="228.5">h<tspan class="s" dy="-2.5">A</tspan><tspan class="s" dx="-2.6" dy="4">5</tspan></text>
<text x="185" y="228.5">h<tspan class="s" dy="-2.5">A</tspan><tspan class="s" dx="-2.6" dy="4">6</tspan></text>
<text x="206" y="228.5">h<tspan class="s" dy="-2.5">A</tspan><tspan class="s" dx="-2.6" dy="4">7</tspan></text>
<text x="230" y="228.5">h<tspan class="s" dy="-2.5">A</tspan><tspan class="s" dx="-2.6" dy="4">8</tspan></text>
<text x="251" y="228.5">h<tspan class="s" dy="-2.5">A</tspan><tspan class="s" dx="-2.6" dy="4">9</tspan></text>
</g>
<path class="ar" d="M67.5,239 V232.5 M89,239 V232.5 M111.5,239 V232.5 M134,239 V232.5 M161,239 V232.5 M185,239 V232.5 M206,239 V232.5 M230,239 V232.5 M251,239 V232.5"/>
<rect class="or" x="61" y="239" width="196" height="12"/>
<text class="cap" x="159" y="247.5">ATE  Encoder</text>
<path class="ar" d="M68,261 V251.5 M87,261 V251.5 M112.5,261 V251.5 M135,261 V251.5 M158,261 V251.5 M182.5,261 V251.5 M204.5,261 V251.5 M228,261 V251.5 M253,261 V251.5"/>
<text class="lbl" x="7" y="268">Input Sentence</text>
<rect class="wbox" x="61" y="261" width="14" height="10"/><text class="wd" x="68" y="268">the</text>
<rect class="wbox" x="77" y="261" width="20" height="10"/><text class="wd" x="87" y="268">lobster</text>
<rect class="wbox" x="99" y="261" width="27" height="10"/><text class="wd" x="112.5" y="268">knuckles</text>
<rect class="wbox" x="127.5" y="261" width="16" height="10"/><text class="wd" x="135.5" y="268">were</text>
<rect class="wbox" x="146" y="261" width="24" height="10"/><text class="wd" x="158" y="268">ok</text>
<rect class="wbox" x="173" y="261" width="19" height="10"/><text class="wd" x="182.5" y="268">,</text>
<rect class="wbox" x="194" y="261" width="21" height="10"/><text class="wd" x="204.5" y="268">but</text>
<rect class="wbox" x="217" y="261" width="22" height="10"/><text class="wd" x="228" y="268">pretty</text>
<rect class="wbox" x="240" y="261" width="26" height="10"/><text class="wd" x="253" y="268">tasteless</text>
<g class="v">
<text x="67" y="279">w<tspan class="s" dy="1.3">1</tspan></text><text x="88" y="279">w<tspan class="s" dy="1.3">2</tspan></text><text x="112" y="279">w<tspan class="s" dy="1.3">3</tspan></text><text x="133" y="279">w<tspan class="s" dy="1.3">4</tspan></text><text x="157" y="279">w<tspan class="s" dy="1.3">5</tspan></text><text x="185" y="279">w<tspan class="s" dy="1.3">6</tspan></text><text x="205" y="279">w<tspan class="s" dy="1.3">7</tspan></text><text x="229" y="279">w<tspan class="s" dy="1.3">8</tspan></text><text x="252" y="279">w<tspan class="s" dy="1.3">9</tspan></text>
</g>
<text class="cap" x="180" y="290">(a) Aspect Term Extraction (ATE)</text>
</g>
</svg>
